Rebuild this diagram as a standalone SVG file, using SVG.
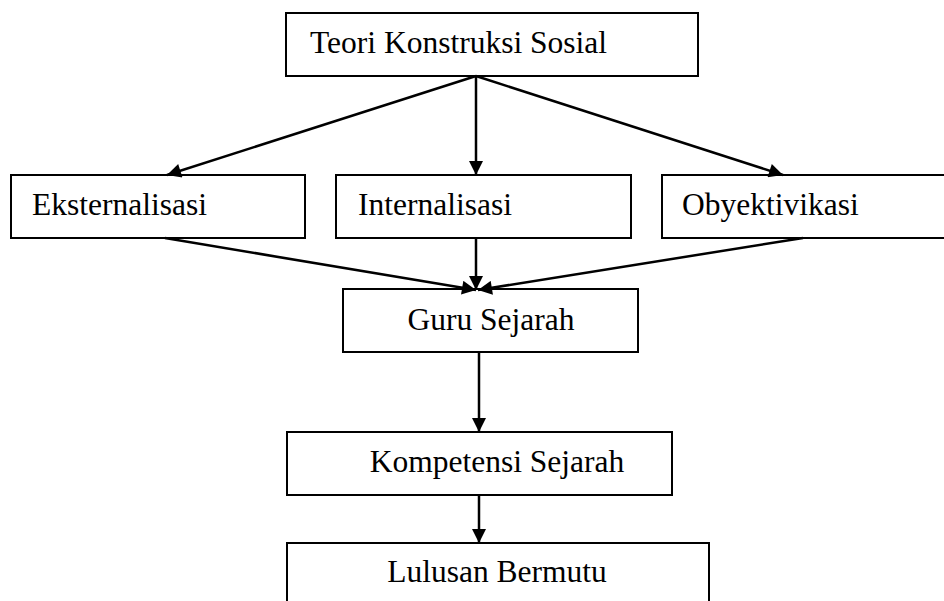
<svg xmlns="http://www.w3.org/2000/svg" width="944" height="601" viewBox="0 0 944 601">
<style>
.box{fill:#fff;stroke:#000;stroke-width:2}
.lbl{font-size:31.5px;fill:#000}
.con{stroke:#000;stroke-width:2.5;fill:none}
</style>
<defs>
<marker id="ah" viewBox="0 0 10 10" refX="10" refY="5" markerWidth="15" markerHeight="14" markerUnits="userSpaceOnUse" orient="auto">
<path d="M0,0 L10,5 L0,10 Z" fill="#000"/>
</marker>
</defs>
<rect width="944" height="601" fill="#fff"/>
<g font-family="Liberation Serif, Times New Roman, DejaVu Serif, serif">
<g id="n-teori"><rect class="box" x="286" y="13" width="412" height="63"/><text class="lbl" x="310" y="53">Teori Konstruksi Sosial</text></g>
<g id="n-eks"><rect class="box" x="11" y="175" width="294" height="63"/><text class="lbl" x="32" y="215">Eksternalisasi</text></g>
<g id="n-int"><rect class="box" x="336" y="175" width="295" height="63"/><text class="lbl" x="358" y="215">Internalisasi</text></g>
<g id="n-oby"><rect class="box" x="662" y="175" width="300" height="63"/><text class="lbl" x="682" y="215">Obyektivikasi</text></g>
<g id="n-guru"><rect class="box" x="343" y="289" width="295" height="63"/><text class="lbl" x="491" y="330" text-anchor="middle">Guru Sejarah</text></g>
<g id="n-komp"><rect class="box" x="287" y="432" width="385" height="63"/><text class="lbl" x="497" y="472" text-anchor="middle">Kompetensi Sejarah</text></g>
<g id="n-lulus"><rect class="box" x="287" y="543" width="422" height="70"/><text class="lbl" x="497" y="582" text-anchor="middle">Lulusan Bermutu</text></g>
</g>
<g id="connectors">
<line class="con" x1="476" y1="76" x2="167" y2="175" marker-end="url(#ah)"/>
<line class="con" x1="476" y1="76" x2="476" y2="175" marker-end="url(#ah)"/>
<line class="con" x1="476" y1="76" x2="783" y2="175" marker-end="url(#ah)"/>
<line class="con" x1="165" y1="238" x2="476" y2="290" marker-end="url(#ah)"/>
<line class="con" x1="476" y1="238" x2="476" y2="290" marker-end="url(#ah)"/>
<line class="con" x1="803" y1="238" x2="478" y2="290" marker-end="url(#ah)"/>
<line class="con" x1="479" y1="352" x2="479" y2="432" marker-end="url(#ah)"/>
<line class="con" x1="479" y1="495" x2="479" y2="543" marker-end="url(#ah)"/>
</g>
</svg>
